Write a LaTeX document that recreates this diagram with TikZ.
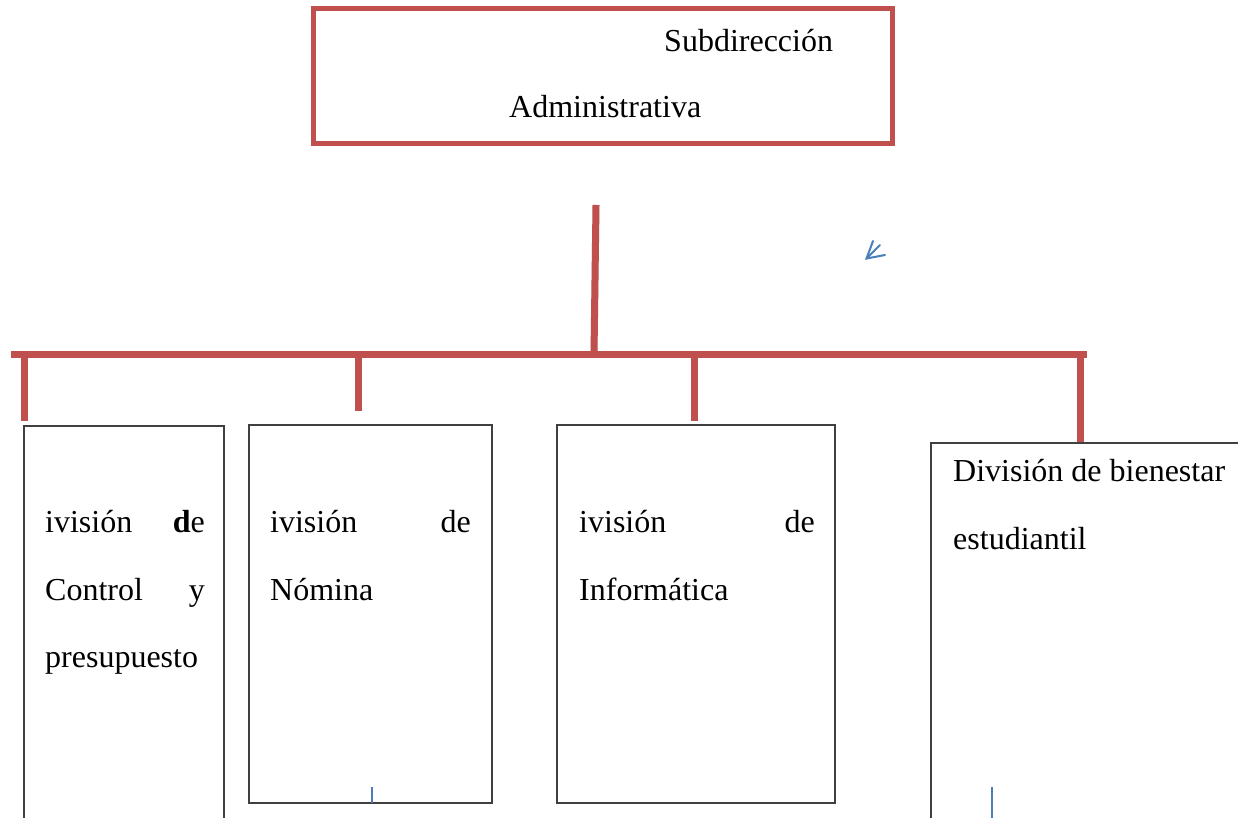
\documentclass[tikz,border=0pt]{standalone}
\usepackage{fontspec}
\setmainfont{Liberation Serif}
\definecolor{ored}{HTML}{C0504D}
\definecolor{oblue}{HTML}{4A7EBB}
\begin{document}
\begin{tikzpicture}[x=1pt,y=-1pt,
  redline/.style={draw=ored,line width=7pt},
  shadowline/.style={draw=black!10,line width=7pt},
  divbox/.style={draw=black!75,line width=1.3pt},
  lbl/.style={font=\fontsize{32}{38}\selectfont,inner sep=0pt,anchor=base west},
  lble/.style={lbl,anchor=base east},
  bluemark/.style={draw=oblue,line width=2pt,line cap=round}]
\useasboundingbox (0,0) rectangle (1238,818);
\clip (0,0) rectangle (1238,818);
\fill[white] (0,0) rectangle (1238,818);
% top box
\draw[draw=ored,line width=5pt] (313,9) rectangle (892,144);
\node[lbl] (t1) at (664,52) {Subdirección};
\node[lbl] (t2) at (509,118) {Administrativa};
% connector coordinates
\coordinate (trunkTop) at (596,205);
\coordinate (trunkBot) at (594,354);
\coordinate (barL) at (11,354);
\coordinate (barR) at (1087,354);
\coordinate (d1) at (24,354); \coordinate (d1e) at (24,421);
\coordinate (d2) at (358,354); \coordinate (d2e) at (358,411);
\coordinate (d3) at (694,354); \coordinate (d3e) at (694,421);
\coordinate (d4) at (1080,354); \coordinate (d4e) at (1080,443);
% shadows
\begin{scope}[shift={(1.5,3)}]
\draw[shadowline] (trunkTop) -- (trunkBot);
\draw[shadowline] (barL) -- (barR);
\draw[shadowline] (d1) -- (d1e);
\draw[shadowline] (d2) -- (d2e);
\draw[shadowline] (d3) -- (d3e);
\draw[shadowline] (d4) -- (d4e);
\end{scope}
% red lines
\draw[redline] (trunkTop) -- (trunkBot);
\draw[redline] (barL) -- (barR);
\draw[redline] (d1) -- (d1e);
\draw[redline] (d2) -- (d2e);
\draw[redline] (d3) -- (d3e);
\draw[redline] (d4) -- (d4e);
% boxes
\draw[divbox] (24,840) -- (24,426) -- (224,426) -- (224,840);
\draw[divbox] (249,425) rectangle (492,803);
\draw[divbox] (557,425) rectangle (835,803);
\draw[divbox] (931,840) -- (931,443) -- (1245,443);
% box 1 text
\node[lbl] (a1) at (45,532) {ivisión};
\node[lble] (a2) at (205,532) {\textbf{d}e};
\node[lbl] (a3) at (45,600) {Control};
\node[lble] (a4) at (205,600) {y};
\node[lbl] (a5) at (45,667) {presupuesto};
% box 2 text
\node[lbl] (b1) at (270,532) {ivisión};
\node[lble] (b2) at (471,532) {de};
\node[lbl] (b3) at (270,600) {Nómina};
% box 3 text
\node[lbl] (c1) at (579,532) {ivisión};
\node[lble] (c2) at (815,532) {de};
\node[lbl] (c3) at (579,600) {Informática};
% box 4 text
\node[lbl] (e1) at (953,481) {División de bienestar};
\node[lbl] (e2) at (953,549) {estudiantil};
% blue marks
\coordinate (m0) at (866.5,258.5);
\coordinate (m1) at (873,241);
\coordinate (m2) at (880,245);
\coordinate (m3) at (885,255);
\draw[bluemark] (m1) -- (m0) -- (m3);
\draw[bluemark] (m0) -- (m2);
\draw[bluemark,line cap=butt] (372,787) -- (372,803);
\draw[bluemark,line cap=butt] (992,787) -- (992,818);
\end{tikzpicture}
\end{document}
